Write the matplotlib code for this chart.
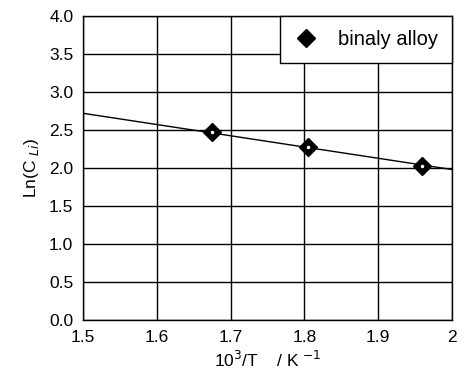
import numpy as np
import matplotlib
matplotlib.use("Agg")
import matplotlib.pyplot as plt

# data
inv_T = [1.675, 1.805, 1.96]
ln_c = [2.47, 2.27, 2.03]
fit_x = [1.5, 2.0]
fit_y = [2.72, 1.98]

x_ticks = [1.5, 1.6, 1.7, 1.8, 1.9, 2.0]
x_labels = ["1.5", "1.6", "1.7", "1.8", "1.9", "2"]
y_ticks = [0.0, 0.5, 1.0, 1.5, 2.0, 2.5, 3.0, 3.5, 4.0]

plt.rcParams["font.family"] = ["Liberation Sans", "DejaVu Sans"]

fig = plt.figure(figsize=(4.66, 3.85), dpi=100)
ax = fig.add_axes([83 / 466, 1 - 320 / 385, 369 / 466, 304 / 385])

ax.plot(fit_x, fit_y, color="black", linewidth=1.0, zorder=3)
ax.plot(inv_T, ln_c, linestyle="none", marker="D", markersize=9,
        color="black", label="binaly alloy", zorder=4)
ax.plot(inv_T, ln_c, linestyle="none", marker="o", markersize=1.5,
        color="white", zorder=5)

ax.set_xlim(1.5, 2.0)
ax.set_ylim(0.0, 4.0)
ax.set_xticks(x_ticks)
ax.set_xticklabels(x_labels)
ax.set_yticks(y_ticks)
ax.set_yticklabels([f"{v:.1f}" for v in y_ticks])
ax.tick_params(length=0, labelsize=12.5, pad=7)
ax.grid(True, color="black", linewidth=1.0)
for s in ax.spines.values():
    s.set_linewidth(1.0)

ax.set_xlabel("10$^{3}$/T    / K $^{-1}$", fontsize=12.5, labelpad=4)
ax.set_ylabel("Ln(C $_{Li}$)", fontsize=12.5, labelpad=6)

leg = ax.legend(loc="upper right", fontsize=14.5, frameon=True, fancybox=False,
                edgecolor="black", framealpha=1, borderaxespad=0,
                handlelength=1.2, handletextpad=1.0, borderpad=0.7)
leg.get_frame().set_linewidth(1.0)

fig.savefig("out.png", dpi=100)
